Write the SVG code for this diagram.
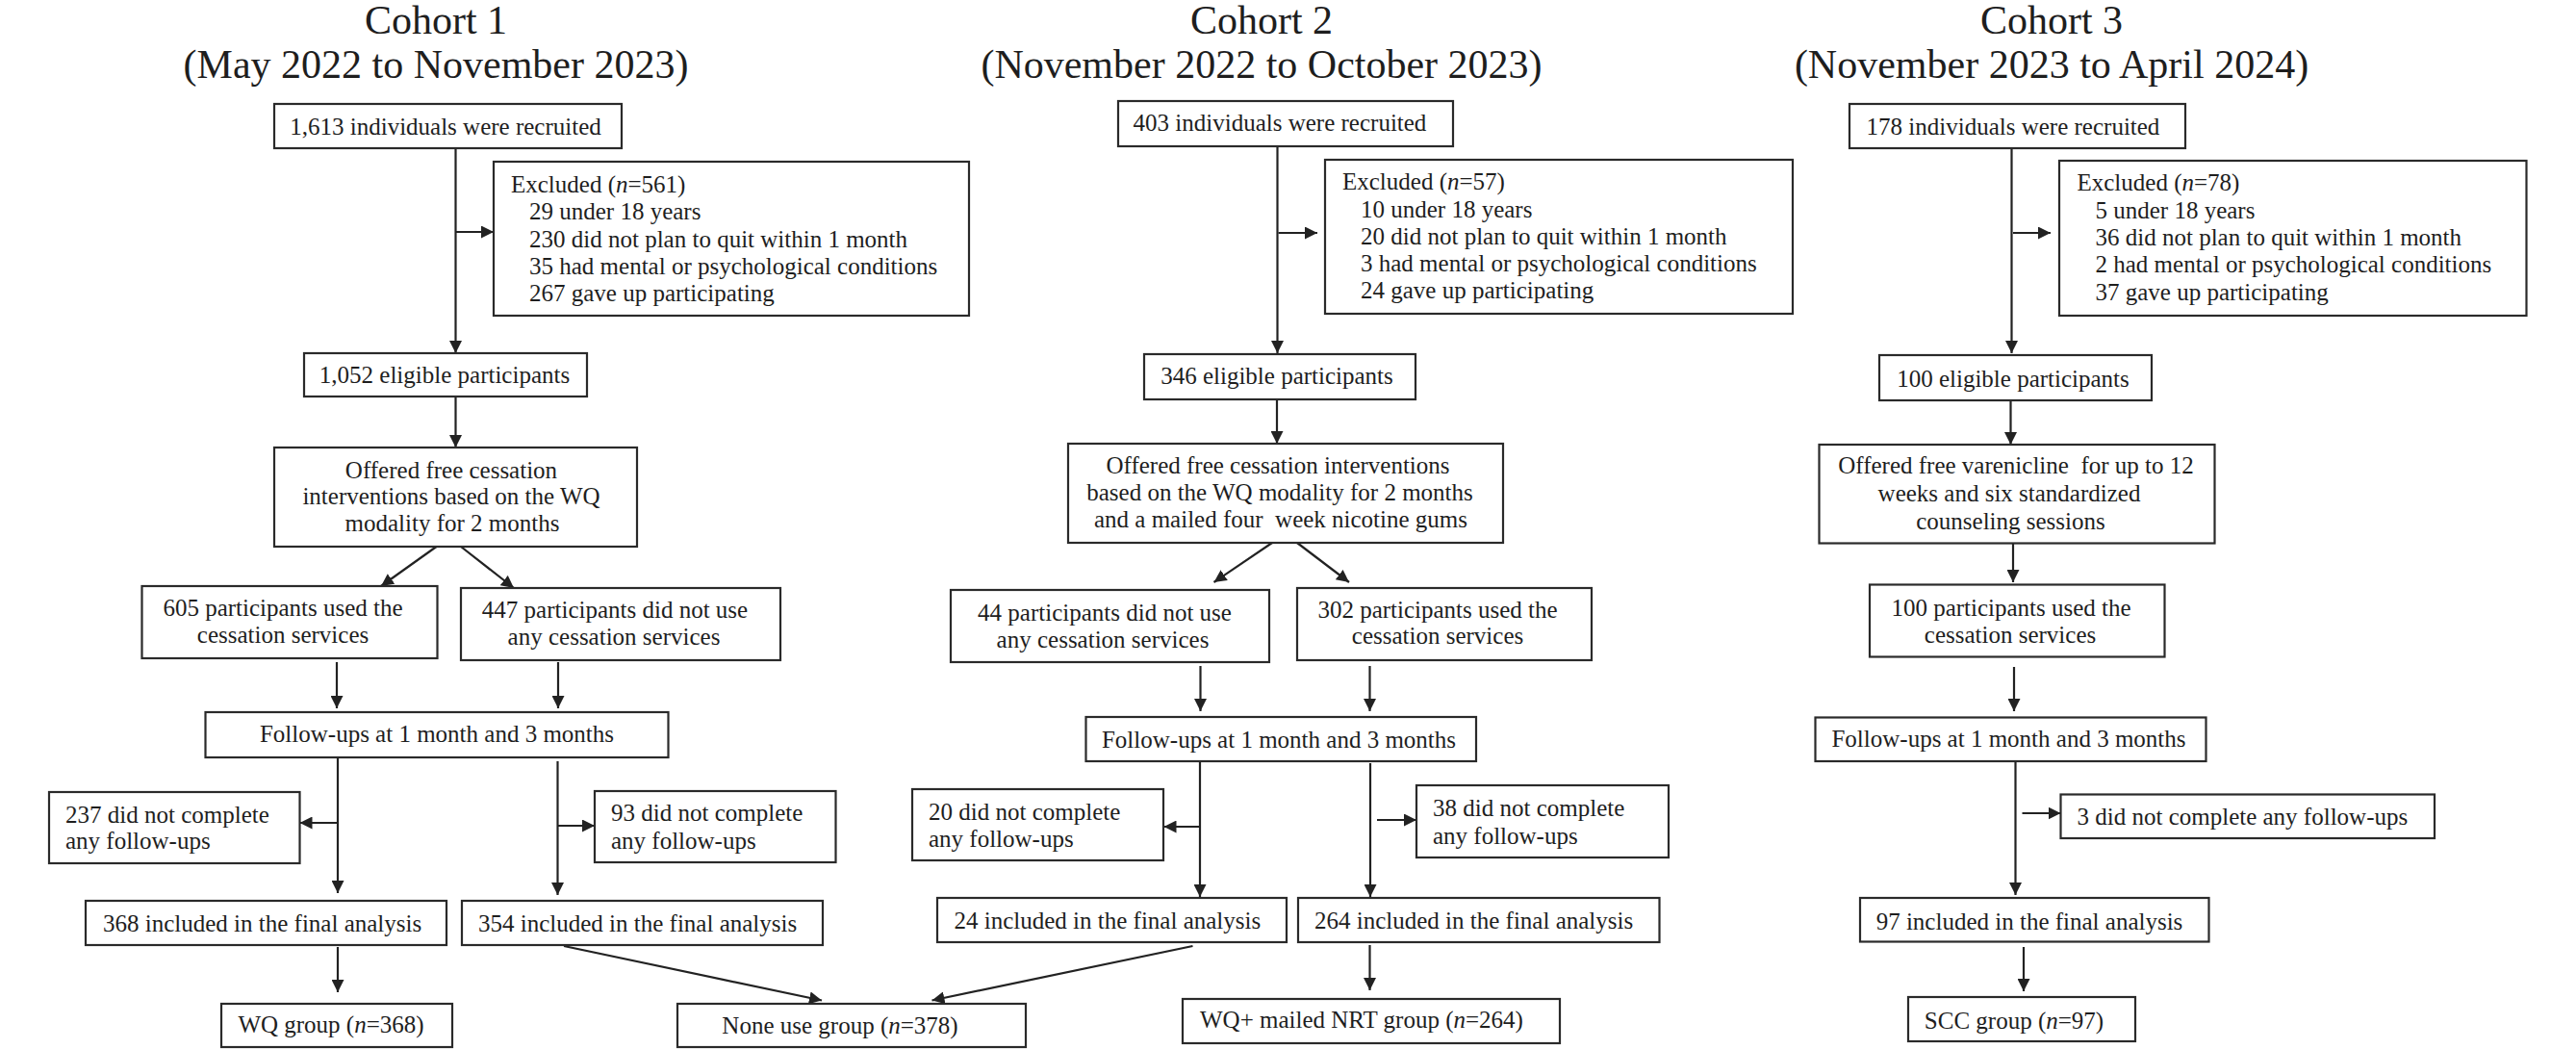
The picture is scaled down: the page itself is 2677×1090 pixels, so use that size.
<svg xmlns="http://www.w3.org/2000/svg" width="2677" height="1090" viewBox="0 0 2677 1090">
<style>
  text { font-family: "Liberation Serif", "Times New Roman", serif; fill: #1e1e1e; }
  .t { font-size: 25px; }
  .c { text-anchor: middle; }
  .title { font-size: 42px; text-anchor: middle; }
  .box { fill: #ffffff; stroke: #2a2a2a; stroke-width: 2.2; }
  .ln { fill: none; stroke: #222222; stroke-width: 2.2; marker-end: url(#ah); }
  .i { font-style: italic; }
</style>
<defs>
  <marker id="ah" markerUnits="userSpaceOnUse" markerWidth="14" markerHeight="13" refX="13" refY="6.5" orient="auto">
    <path d="M0,0 L13,6.5 L0,13 z" fill="#222222"/>
  </marker>
</defs>
<rect width="2677" height="1090" fill="#ffffff"/>

<g id="titles">
  <text class="title" x="453" y="34.5">Cohort 1</text>
  <text class="title" x="453" y="81">(May 2022 to November 2023)</text>
  <text class="title" x="1311" y="34.5">Cohort 2</text>
  <text class="title" x="1311" y="81">(November 2022 to October 2023)</text>
  <text class="title" x="2132" y="34.5">Cohort 3</text>
  <text class="title" x="2132" y="81">(November 2023 to April 2024)</text>
</g>

<g id="connectors">
  <!-- Cohort 1 -->
  <line class="ln" x1="473.5" y1="154" x2="473.5" y2="367"/>
  <line class="ln" x1="473.5" y1="241" x2="513" y2="241"/>
  <line class="ln" x1="473.5" y1="412" x2="473.5" y2="465"/>
  <line class="ln" x1="453.5" y1="568" x2="396" y2="609"/>
  <line class="ln" x1="479" y1="568" x2="534" y2="611"/>
  <line class="ln" x1="350" y1="688" x2="350" y2="736"/>
  <line class="ln" x1="580" y1="688" x2="580" y2="736"/>
  <line class="ln" x1="351" y1="787" x2="351" y2="928"/>
  <line class="ln" x1="351" y1="855" x2="311.5" y2="855"/>
  <line class="ln" x1="579.5" y1="791" x2="579.5" y2="930"/>
  <line class="ln" x1="579.5" y1="858" x2="618" y2="858"/>
  <line class="ln" x1="351" y1="984" x2="351" y2="1031"/>
  <line class="ln" x1="586" y1="983" x2="854" y2="1039.5"/>
  <line class="ln" x1="1239.5" y1="983" x2="968.5" y2="1039.5"/>
  <!-- Cohort 2 -->
  <line class="ln" x1="1327.5" y1="152" x2="1327.5" y2="367"/>
  <line class="ln" x1="1328.5" y1="242" x2="1369" y2="242"/>
  <line class="ln" x1="1327" y1="415" x2="1327" y2="461"/>
  <line class="ln" x1="1322" y1="564" x2="1261.5" y2="605"/>
  <line class="ln" x1="1348" y1="564" x2="1402" y2="605"/>
  <line class="ln" x1="1247.5" y1="692" x2="1247.5" y2="739"/>
  <line class="ln" x1="1423.5" y1="692" x2="1423.5" y2="739"/>
  <line class="ln" x1="1247" y1="791" x2="1247" y2="932"/>
  <line class="ln" x1="1247" y1="859" x2="1209.5" y2="859"/>
  <line class="ln" x1="1424" y1="793" x2="1424" y2="932"/>
  <line class="ln" x1="1431" y1="852" x2="1472" y2="852"/>
  <line class="ln" x1="1423.5" y1="982" x2="1423.5" y2="1029"/>
  <!-- Cohort 3 -->
  <line class="ln" x1="2090.5" y1="154" x2="2090.5" y2="367"/>
  <line class="ln" x1="2092" y1="242" x2="2131" y2="242"/>
  <line class="ln" x1="2089.5" y1="416" x2="2089.5" y2="462"/>
  <line class="ln" x1="2092" y1="565" x2="2092" y2="605"/>
  <line class="ln" x1="2093" y1="693" x2="2093" y2="739"/>
  <line class="ln" x1="2094.5" y1="791" x2="2094.5" y2="930"/>
  <line class="ln" x1="2101.5" y1="845" x2="2141.5" y2="845"/>
  <line class="ln" x1="2103" y1="984" x2="2103" y2="1030"/>
</g>

<!-- Cohort 1 nodes -->
<g id="c1_recruit">
  <rect class="box" x="285" y="108" width="361" height="46"/>
  <text class="t c" x="463" y="140">1,613 individuals were recruited</text>
</g>
<g id="c1_excluded">
  <rect class="box" x="513" y="168" width="494" height="160"/>
  <text class="t" x="531" y="200">Excluded (<tspan class="i">n</tspan>=561)</text>
  <text class="t" x="550" y="228">29 under 18 years</text>
  <text class="t" x="550" y="257">230 did not plan to quit within 1 month</text>
  <text class="t" x="550" y="285">35 had mental or psychological conditions</text>
  <text class="t" x="550" y="313">267 gave up participating</text>
</g>
<g id="c1_eligible">
  <rect class="box" x="316" y="367" width="294" height="45"/>
  <text class="t c" x="462" y="398">1,052 eligible participants</text>
</g>
<g id="c1_offered">
  <rect class="box" x="285" y="465" width="377" height="103"/>
  <text class="t c" x="469" y="497">Offered free cessation</text>
  <text class="t c" x="469" y="524">interventions based on the WQ</text>
  <text class="t c" x="470" y="552">modality for 2 months</text>
</g>
<g id="c1_used">
  <rect class="box" x="147.5" y="609" width="307" height="75"/>
  <text class="t c" x="294" y="640">605 participants used the</text>
  <text class="t c" x="294" y="668">cessation services</text>
</g>
<g id="c1_notused">
  <rect class="box" x="479" y="611" width="332" height="75"/>
  <text class="t c" x="639" y="642">447 participants did not use</text>
  <text class="t c" x="638" y="670">any cessation services</text>
</g>
<g id="c1_followup">
  <rect class="box" x="213.5" y="740" width="481" height="47"/>
  <text class="t c" x="454" y="771">Follow-ups at 1 month and 3 months</text>
</g>
<g id="c1_lost_left">
  <rect class="box" x="51" y="823" width="260.5" height="74"/>
  <text class="t" x="68" y="855">237 did not complete</text>
  <text class="t" x="68" y="882">any follow-ups</text>
</g>
<g id="c1_lost_right">
  <rect class="box" x="618" y="822" width="250.5" height="74"/>
  <text class="t" x="635" y="853">93 did not complete</text>
  <text class="t" x="635" y="882">any follow-ups</text>
</g>
<g id="c1_final_left">
  <rect class="box" x="89" y="936" width="375" height="46"/>
  <text class="t" x="107" y="968">368 included in the final analysis</text>
</g>
<g id="c1_final_right">
  <rect class="box" x="480" y="936" width="375" height="46"/>
  <text class="t" x="497" y="968">354 included in the final analysis</text>
</g>
<g id="wq_group">
  <rect class="box" x="230" y="1043" width="240" height="45"/>
  <text class="t c" x="344" y="1073">WQ group (<tspan class="i">n</tspan>=368)</text>
</g>
<g id="none_use_group">
  <rect class="box" x="704" y="1043" width="362" height="45"/>
  <text class="t c" x="873" y="1074">None use group (<tspan class="i">n</tspan>=378)</text>
</g>

<!-- Cohort 2 nodes -->
<g id="c2_recruit">
  <rect class="box" x="1162" y="105" width="348" height="47"/>
  <text class="t c" x="1330" y="136">403 individuals were recruited</text>
</g>
<g id="c2_excluded">
  <rect class="box" x="1377" y="166" width="486" height="160"/>
  <text class="t" x="1395" y="197">Excluded (<tspan class="i">n</tspan>=57)</text>
  <text class="t" x="1414" y="226">10 under 18 years</text>
  <text class="t" x="1414" y="254">20 did not plan to quit within 1 month</text>
  <text class="t" x="1414" y="282">3 had mental or psychological conditions</text>
  <text class="t" x="1414" y="310">24 gave up participating</text>
</g>
<g id="c2_eligible">
  <rect class="box" x="1189" y="368" width="282" height="47"/>
  <text class="t c" x="1327" y="399">346 eligible participants</text>
</g>
<g id="c2_offered">
  <rect class="box" x="1110" y="461" width="452" height="103"/>
  <text class="t c" x="1328" y="492">Offered free cessation interventions</text>
  <text class="t c" x="1330" y="520">based on the WQ modality for 2 months</text>
  <text class="t c" x="1331" y="548" xml:space="preserve">and a mailed four  week nicotine gums</text>
</g>
<g id="c2_notused">
  <rect class="box" x="988" y="613" width="331" height="75"/>
  <text class="t c" x="1148" y="645">44 participants did not use</text>
  <text class="t c" x="1146" y="673">any cessation services</text>
</g>
<g id="c2_used">
  <rect class="box" x="1348" y="611" width="306" height="75"/>
  <text class="t c" x="1494" y="642">302 participants used the</text>
  <text class="t c" x="1494" y="669">cessation services</text>
</g>
<g id="c2_followup">
  <rect class="box" x="1128.5" y="745" width="405.5" height="46"/>
  <text class="t c" x="1329" y="777">Follow-ups at 1 month and 3 months</text>
</g>
<g id="c2_lost_left">
  <rect class="box" x="948" y="820" width="261" height="74"/>
  <text class="t" x="965" y="852">20 did not complete</text>
  <text class="t" x="965" y="880">any follow-ups</text>
</g>
<g id="c2_lost_right">
  <rect class="box" x="1472" y="816" width="262" height="75"/>
  <text class="t" x="1489" y="848">38 did not complete</text>
  <text class="t" x="1489" y="877">any follow-ups</text>
</g>
<g id="c2_final_left">
  <rect class="box" x="974" y="933" width="363" height="46"/>
  <text class="t" x="991.5" y="965">24 included in the final analysis</text>
</g>
<g id="c2_final_right">
  <rect class="box" x="1349" y="933" width="375.5" height="46"/>
  <text class="t" x="1366" y="965">264 included in the final analysis</text>
</g>
<g id="wq_nrt_group">
  <rect class="box" x="1229" y="1038" width="392" height="46"/>
  <text class="t" x="1247" y="1068">WQ+ mailed NRT group (<tspan class="i">n</tspan>=264)</text>
</g>

<!-- Cohort 3 nodes -->
<g id="c3_recruit">
  <rect class="box" x="1922" y="108" width="349" height="46"/>
  <text class="t c" x="2092" y="140">178 individuals were recruited</text>
</g>
<g id="c3_excluded">
  <rect class="box" x="2140" y="167" width="485.5" height="161"/>
  <text class="t" x="2158.5" y="198">Excluded (<tspan class="i">n</tspan>=78)</text>
  <text class="t" x="2177.5" y="227">5 under 18 years</text>
  <text class="t" x="2177.5" y="255">36 did not plan to quit within 1 month</text>
  <text class="t" x="2177.5" y="283">2 had mental or psychological conditions</text>
  <text class="t" x="2177.5" y="312">37 gave up participating</text>
</g>
<g id="c3_eligible">
  <rect class="box" x="1953" y="369" width="283" height="47"/>
  <text class="t c" x="2092" y="402">100 eligible participants</text>
</g>
<g id="c3_offered">
  <rect class="box" x="1890.5" y="462" width="411" height="102.5"/>
  <text class="t c" x="2095" y="492" xml:space="preserve">Offered free varenicline  for up to 12</text>
  <text class="t c" x="2088" y="521">weeks and six standardized</text>
  <text class="t c" x="2089.5" y="549.5">counseling sessions</text>
</g>
<g id="c3_used">
  <rect class="box" x="1943" y="607.5" width="306.5" height="75"/>
  <text class="t c" x="2090" y="640">100 participants used the</text>
  <text class="t c" x="2089" y="667.5">cessation services</text>
</g>
<g id="c3_followup">
  <rect class="box" x="1886.5" y="745.5" width="406" height="45.5"/>
  <text class="t c" x="2087.5" y="776">Follow-ups at 1 month and 3 months</text>
</g>
<g id="c3_lost">
  <rect class="box" x="2141.5" y="825.5" width="388.5" height="45.5"/>
  <text class="t" x="2158.5" y="857">3 did not complete any follow-ups</text>
</g>
<g id="c3_final">
  <rect class="box" x="1933" y="933" width="362.5" height="45.5"/>
  <text class="t c" x="2109" y="965.5">97 included in the final analysis</text>
</g>
<g id="scc_group">
  <rect class="box" x="1983" y="1036" width="236" height="46"/>
  <text class="t c" x="2093" y="1069">SCC group (<tspan class="i">n</tspan>=97)</text>
</g>
</svg>
